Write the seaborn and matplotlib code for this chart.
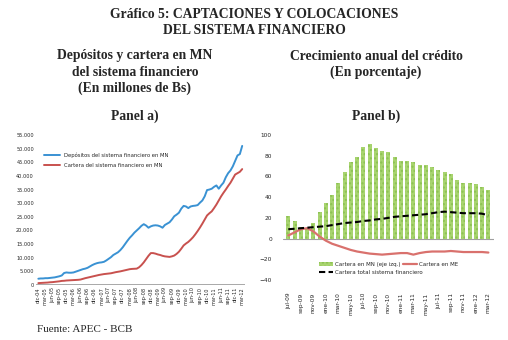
import numpy as np
import pandas as pd
import matplotlib
matplotlib.use("Agg")
import matplotlib.pyplot as plt
import seaborn as sns

sns.set_style("white")
plt.rcParams['font.family'] = ['DejaVu Sans']

meses = ["ene", "feb", "mar", "abr", "may", "jun", "jul", "ago", "sep", "oct", "nov", "dic"]

# ---------------- Panel a data (monthly dic-04 .. mar-12) ----------------
depositos = [2300, 2400, 2400, 2500, 2500, 2600, 2700, 2800, 3000, 3200, 3500, 4400,
             4600, 4500, 4500, 4600, 4900, 5200, 5500, 5800, 6000, 6300, 6800, 7300,
             7700, 8000, 8200, 8300, 8500, 9000, 9600, 10200, 11000, 11500, 12000, 12800,
             13800, 15000, 16200, 17300, 18200, 19200, 20000, 20800, 21700, 22300, 21800, 21000,
             21500, 21800, 21900, 21800, 21500, 21000, 22000, 22500, 23000, 24000, 25200, 25800,
             26500, 28000, 29000, 28800, 28200, 28800, 29000, 29100, 29300, 30200, 31000, 32500,
             34800, 35000, 35300, 36000, 36500, 35300, 36500, 37500, 39500, 41000, 42000, 43500,
             45500, 47500, 48000, 51000]
cartera = [700, 750, 800, 850, 900, 1000, 1050, 1150, 1250, 1350, 1500, 1550,
           1650, 1700, 1750, 1800, 1850, 1900, 2000, 2250, 2500, 2700, 2900, 3100,
           3300, 3500, 3700, 3850, 4000, 4100, 4200, 4300, 4500, 4700, 4850, 5000,
           5200, 5400, 5600, 5800, 5900, 5950, 6000, 6500, 7300, 8300, 9500, 10700,
           11700, 11700, 11500, 11200, 11000, 10700, 10500, 10400, 10300, 10500, 10800, 11400,
           12200, 13300, 14500, 15200, 15800, 16600, 17500, 18600, 19800, 21100, 22500, 24000,
           25500, 26300, 27000, 28200, 29500, 31000, 32500, 33800, 35000, 36300, 37500, 39000,
           40500, 41000, 41500, 42500]
# month labels dic-04 .. mar-12
fechas_a = []
m, y = 11, 4
while not (m == 3 and y == 12):
    fechas_a.append(f"{meses[m]}-{y:02d}")
    m += 1
    if m == 12:
        m, y = 0, y + 1
fechas_a.append("mar-12")

# ---------------- Panel b data (monthly jul-09 .. mar-12) ----------------
cartera_mn = [22, 17, 11, 10, 15, 26, 34, 42, 54, 64, 74, 79,
              88, 91, 87, 85, 84, 79, 75, 75, 74, 71, 71, 69,
              66, 64, 62, 57, 54, 54, 53, 50, 47]
cartera_me = [3, 6, 9, 10, 7, 2, -2, -5, -7, -9, -11, -12.5,
              -13.5, -14.5, -15, -15.5, -15, -14.5, -14, -14, -15.5, -14, -13, -12.5,
              -12.5, -12.5, -12, -12.5, -13, -13, -13, -13, -13.5]
cartera_total = [9, 9.5, 10, 10.5, 11, 11.5, 12, 13, 14, 15, 15.5, 16,
                 17, 17.5, 18.5, 19, 20, 21, 21.5, 22, 22.5, 23, 23.5, 24.5,
                 25.5, 26, 25.5, 25, 24.5, 24.5, 24.5, 24, 22.5]
fechas_b = []
m, y = 6, 9
for _ in range(len(cartera_mn)):
    fechas_b.append(f"{meses[m]}-{y:02d}")
    m += 1
    if m == 12:
        m, y = 0, y + 1

W, H = 508, 340
fig = plt.figure(figsize=(W / 100, H / 100), dpi=100)

def fx(px):
    return px / W

def fy(py):
    return 1 - py / H

serif = ['Liberation Serif', 'DejaVu Serif']
tkw = dict(family=serif, fontweight='bold', fontsize=9.8, ha='center', va='center')
fig.text(fx(254), fy(14), "Gráfico 5: CAPTACIONES Y COLOCACIONES", **tkw)
fig.text(fx(254), fy(31), "DEL SISTEMA FINANCIERO", **tkw)
fig.text(fx(135), fy(56), "Depósitos y cartera en MN", **tkw)
fig.text(fx(135), fy(72), "del sistema financiero", **tkw)
fig.text(fx(135), fy(88), "(En millones de Bs)", **tkw)
fig.text(fx(376), fy(56), "Crecimiento anual del crédito", **tkw)
fig.text(fx(376), fy(72), "(En porcentaje)", **tkw)
fig.text(fx(135), fy(116), "Panel a)", **tkw)
fig.text(fx(376), fy(116), "Panel b)", **tkw)
fig.text(fx(37), fy(330), "Fuente: APEC - BCB", family=serif, fontsize=8, ha='left', va='center')

# ---------------- Panel a ----------------
axa = fig.add_axes([fx(36), fy(285), fx(245 - 36), (285 - 135) / H])
dfa = pd.DataFrame({
    "idx": list(range(len(depositos))) * 2,
    "valor": depositos + cartera,
    "serie": ["Depósitos del sistema financiero en MN"] * len(depositos)
             + ["Cartera del sistema financiero en MN"] * len(cartera),
})
sns.lineplot(data=dfa, x="idx", y="valor", hue="serie", ax=axa,
             palette=["#3A92D3", "#C8514E"], linewidth=1.4, legend=True)
axa.set_xlim(-1, 88.2)
axa.set_ylim(0, 55000)
axa.set_yticks(np.arange(0, 55001, 5000))
axa.set_yticklabels(["0"] + [f"{v // 1000}.000" for v in range(5000, 55001, 5000)])
tick_idx = list(range(0, len(fechas_a), 3))
axa.set_xticks(tick_idx)
axa.set_xticklabels([fechas_a[i] for i in tick_idx], rotation=90)
axa.tick_params(axis='both', labelsize=3.6, length=0, pad=1.5)
axa.set_xlabel("")
axa.set_ylabel("")
for s in axa.spines.values():
    s.set_visible(False)
axa.axhline(0, color="#A0A0A0", linewidth=2, zorder=0)
leg = axa.legend(loc="upper left", bbox_to_anchor=(0.03, 0.9), frameon=False,
                 fontsize=3.8, handlelength=3, labelspacing=1.0, borderaxespad=0)

# ---------------- Panel b ----------------
axb = fig.add_axes([fx(283), fy(280), fx(494 - 283), (280 - 135) / H])
dfb = pd.DataFrame({"fecha": fechas_b, "mn": cartera_mn, "me": cartera_me,
                    "total": cartera_total, "idx": np.arange(len(fechas_b))})
sns.barplot(data=dfb, x="fecha", y="mn", ax=axb, color="#A8D46F", width=0.62,
            saturation=1, label="Cartera en MN (eje izq.)", order=fechas_b)
for p in axb.patches:
    p.set_hatch("....")
    p.set_edgecolor("#8CC152")
    p.set_linewidth(0)
sns.lineplot(data=dfb, x="idx", y="me", ax=axb, color="#D9716D", linewidth=1.6,
             label="Cartera en ME")
sns.lineplot(data=dfb, x="idx", y="total", ax=axb, color="black", linewidth=1.5,
             linestyle=(0, (3, 1.6)), label="Cartera total sistema financiero")
axb.set_xlim(-0.85, 32.9)
axb.set_ylim(-40, 100)
axb.set_yticks(np.arange(-40, 101, 20))
axb.set_xticks(list(range(0, len(fechas_b), 2)))
axb.set_xticklabels([fechas_b[i] for i in range(0, len(fechas_b), 2)], rotation=90)
axb.tick_params(axis='y', labelsize=4.2, length=0, pad=8)
axb.tick_params(axis='x', labelsize=4.2, length=0, pad=9)
axb.set_xlabel("")
axb.set_ylabel("")
for s in axb.spines.values():
    s.set_visible(False)
axb.axhline(0, color="#A0A0A0", linewidth=0.8, zorder=0)
h, l = axb.get_legend_handles_labels()
hd = dict(zip(l, h))
lkw = dict(loc="upper left", frameon=False, fontsize=4.0, handlelength=2.6,
           labelspacing=0.6, borderaxespad=0, handletextpad=0.3, borderpad=0)
order1 = ["Cartera en MN (eje izq.)", "Cartera total sistema financiero"]
leg1 = axb.legend([hd[k] for k in order1], order1,
                  bbox_to_anchor=((319 - 283) / 211, (280 - 262) / 145), **lkw)
axb.add_artist(leg1)
axb.legend([hd["Cartera en ME"]], ["Cartera en ME"],
           bbox_to_anchor=((403 - 283) / 211, (280 - 262) / 145), **lkw)

fig.savefig("out.png", dpi=100)
